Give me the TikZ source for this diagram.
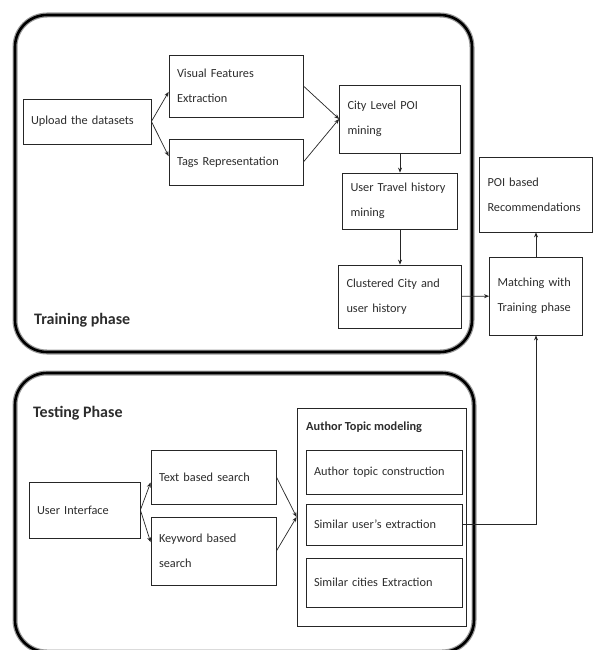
\documentclass[tikz,border=0pt]{standalone}
\usepackage{fontspec}
\setmainfont{Carlito}
\usetikzlibrary{arrows.meta,calc}
\definecolor{ink}{RGB}{45,45,45}
\tikzset {>={Stealth[length=5pt,width=4pt]}}
\tikzset{blk/.style 2 args={draw=black!85,line width=.8pt,fill=white,inner xsep=8pt,
    text width=#1,minimum height=#2,align=left,text=ink,
    font=\fontsize{12.3}{25}\selectfont},
  link/.style={->,draw=black!85,line width=.7pt},
  frame/.style={line width=2.6pt,rounded corners=32pt},
  framegray/.style={line width=5pt,draw=black!40,rounded corners=32pt},
  phaselbl/.style={anchor=west,inner sep=0pt,text=ink,font=\fontsize{16}{18}\selectfont\bfseries}}

\begin{document}
\begin{tikzpicture}[x=1pt,y=-1pt]
\useasboundingbox[fill=white] (0,0) rectangle (597,650);
\draw[framegray] (15,15) rectangle (472,352);
\draw[frame] (15,15) rectangle (472,352);
\draw[framegray] (15,373) rectangle (474,652);
\draw[frame] (15,373) rectangle (474,652);
\node[phaselbl] (trainlbl) at (34,320) {Training phase};
\node[phaselbl] (testlbl) at (33,413) {Testing Phase};
\node[blk={112pt}{45pt}] (upload) at (87,121.5) {Upload the datasets};
\node[blk={118pt}{62pt}] (vfe) at (236,86) {Visual Features\\Extraction};
\node[blk={118pt}{46pt}] (tags) at (236,162) {Tags Representation};
\node[blk={105pt}{68pt}] (city) at (400,119) {City Level POI\\mining};
\node[blk={99pt}{56pt}] (travel) at (400,201) {User Travel history\\mining};
\node[blk={107pt}{63pt}] (clus) at (400,296.5) {Clustered City and\\user history};
\node[blk={97pt}{75pt}] (poi) at (536,194.5) {POI based\\Recommendations};
\node[blk={77pt}{78pt}] (match) at (536,296) {Matching with\\Training phase};
\draw[link] (upload.east) -- (vfe.185);
\draw[link] (upload.east) -- (tags.175);
\draw[link] (vfe.east) -- (city.west);
\draw[link] (tags.east) -- (city.west);
\draw[link] (city) -- (travel);
\draw[link] (travel) -- (clus);
\draw[link] (clus) -- (match);
\draw[link] (match) -- (poi);
\node[blk={95pt}{56pt}] (ui) at (84.5,510) {User Interface};
\node[blk={109pt}{54pt}] (tbs) at (213.5,477) {Text based search};
\node[blk={109pt}{68pt}] (kbs) at (213.5,551) {Keyword based\\search};
\node[blk={153pt}{218pt}] (atm) at (381.5,517) {};
\node[phaselbl,font=\fontsize{12.3}{14}\selectfont\bfseries] (atmtitle) at (306,427) {Author Topic modeling};
\node[blk={140pt}{44pt}] (atc) at (384,472) {Author topic construction};
\node[blk={140pt}{41pt}] (sue) at (384,524.5) {Similar user's extraction};
\node[blk={140pt}{49pt}] (sce) at (384,582.5) {Similar cities Extraction};
\draw[link] (ui.east) -- (tbs.185);
\draw[link] (ui.east) -- (kbs.172);
\draw[link] (tbs.east) -- (atm.west);
\draw[link] (kbs.east) -- (atm.west);
\draw[link] (sue.east) -| (match.south);
\end{tikzpicture}
\end{document}
